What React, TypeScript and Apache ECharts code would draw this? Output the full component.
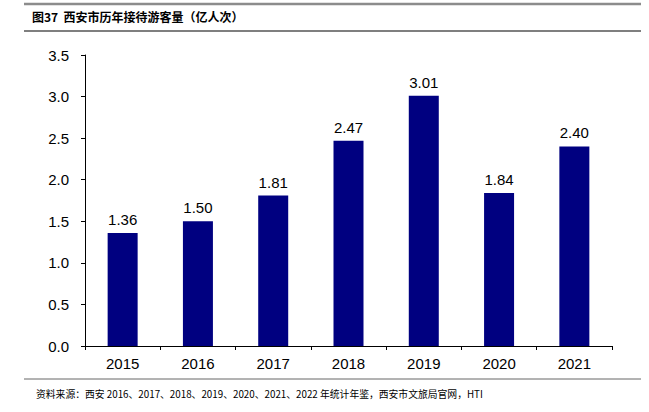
import React, { useEffect, useRef } from "react";
import * as echarts from "echarts";

const categories = ["2015", "2016", "2017", "2018", "2019", "2020", "2021"];
const visitors = [1.36, 1.5, 1.81, 2.47, 3.01, 1.84, 2.4];
const titleText = "图37  西安市历年接待游客量（亿人次）";
const sourceText = "资料来源：西安 2016、2017、2018、2019、2020、2021、2022 年统计年鉴，西安市文旅局官网，HTI";

export default function App() {
  const ref = useRef<HTMLDivElement>(null);
  useEffect(() => {
    document.body.style.margin = "0";
    const chart = echarts.init(ref.current!, null, { renderer: "svg" });
    chart.setOption({
      animation: false,
      backgroundColor: "#ffffff",
      grid: { left: 85, right: 37, top: 55, bottom: 66 },
      xAxis: {
        type: "category",
        data: categories,
        axisLine: { lineStyle: { color: "#000", width: 1 } },
        axisTick: { show: true, length: 4, inside: false, lineStyle: { color: "#000" } },
        axisLabel: { color: "#000", fontSize: 15, fontFamily: "Liberation Sans", margin: 10 },
      },
      yAxis: {
        type: "value",
        min: 0,
        max: 3.5,
        interval: 0.5,
        splitLine: { show: false },
        axisLine: { show: true, lineStyle: { color: "#000", width: 1 } },
        axisTick: { show: true, length: 4, lineStyle: { color: "#000" } },
        axisLabel: {
          color: "#000",
          fontSize: 15,
          fontFamily: "Liberation Sans",
          margin: 16,
          formatter: (v: number) => v.toFixed(1),
        },
      },
      series: [
        {
          type: "bar",
          data: visitors,
          barWidth: 30,
          itemStyle: { color: "#000080" },
          label: {
            show: true,
            position: "top",
            distance: 6,
            color: "#000",
            fontSize: 15,
            fontFamily: "Liberation Sans",
            formatter: (p: any) => p.value.toFixed(2),
          },
        },
      ],
      graphic: [
        { type: "line", shape: { x1: 24, y1: 4, x2: 641, y2: 4 }, style: { stroke: "#8c8c8c", lineWidth: 2.5 } },
        { type: "line", shape: { x1: 24, y1: 31, x2: 641, y2: 31 }, style: { stroke: "#000", lineWidth: 1.2 } },
        { type: "line", shape: { x1: 24, y1: 379, x2: 641, y2: 379 }, style: { stroke: "#666", lineWidth: 1 } },
        {
          type: "text",
          x: 32,
          y: 16,
          style: {
            text: titleText,
            fill: "#000",
            font: "bold 12px 'Noto Sans CJK SC'",
            verticalAlign: "middle",
          },
        },
        {
          type: "text",
          x: 36,
          y: 394,
          style: {
            text: sourceText,
            fill: "#000",
            font: "9.8px 'Noto Sans CJK SC'",
            verticalAlign: "middle",
          },
        },
      ],
    });
    return () => chart.dispose();
  }, []);
  return <div ref={ref} style={{ width: 649, height: 412 }} />;
}
